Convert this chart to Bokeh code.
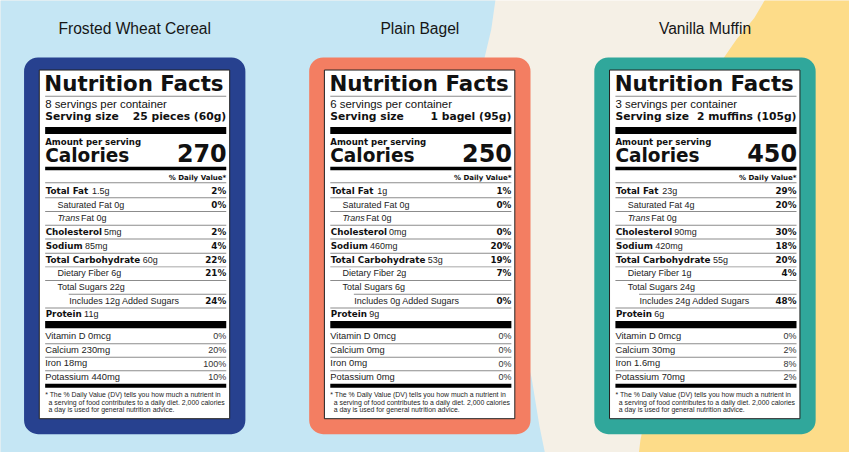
from bokeh.plotting import figure
from bokeh.models import Range1d
from bokeh.core.properties import value
from bokeh.embed import file_html
from bokeh.resources import INLINE

# ---------------- data ----------------
products = ["Frosted Wheat Cereal", "Plain Bagel", "Vanilla Muffin"]
servings = [8, 6, 3]
serving_sizes = ["25 pieces (60g)", "1 bagel (95g)", "2 muffins (105g)"]
calories = [270, 250, 450]

total_fat = ["1.5g", "1g", "23g"]
total_fat_dv = [2, 1, 29]
sat_fat = ["0g", "0g", "4g"]
sat_fat_dv = [0, 0, 20]
trans_fat = ["0g", "0g", "0g"]
cholesterol = ["5mg", "0mg", "90mg"]
cholesterol_dv = [2, 0, 30]
sodium = ["85mg", "460mg", "420mg"]
sodium_dv = [4, 20, 18]
carbs = ["60g", "53g", "55g"]
carbs_dv = [22, 19, 20]
fiber = ["6g", "2g", "1g"]
fiber_dv = [21, 7, 4]
sugars = ["22g", "6g", "24g"]
added_sugars = ["12g", "0g", "24g"]
added_sugars_dv = [24, 0, 48]
protein = ["11g", "9g", "6g"]

vitamin_d = ["0mcg", "0mcg", "0mcg"]
vitamin_d_dv = [0, 0, 0]
calcium = ["230mg", "0mg", "30mg"]
calcium_dv = [20, 0, 2]
iron = ["18mg", "0mg", "1.6mg"]
iron_dv = [100, 0, 8]
potassium = ["440mg", "0mg", "70mg"]
potassium_dv = [10, 0, 2]

footnote = ["* The % Daily Value (DV) tells you how much a nutrient in",
            "a serving of food contributes to a daily diet. 2,000 calories",
            "a day is used for general nutrition advice."]

card_colors = ["#27418F", "#F37E62", "#30A79B"]

# ---------------- styles ----------------
BLUE_BG = "#C5E6F4"
BEIGE_BG = "#F5F0E6"
YELLOW_BG = "#FDDC89"
RULE = "#8C8C8C"
INK = "#111111"
BOLD = "DejaVu Sans"
REG = "Liberation Sans"
FS = 0.975        # font scale (figure is slightly smaller than the reference)
BASE_SHIFT = 0.37  # renderer places text lower than the baseline by ~this * size

W_BOLD = {' ': .348, 'T': .682, 'o': .687, 't': .478, 'a': .675, 'l': .343, 'F': .683,
          'C': .734, 'h': .712, 'e': .678, 's': .595, 'r': .493, 'S': .720, 'd': .716,
          'i': .343, 'u': .712, 'm': 1.042, 'y': .652, 'P': .732, 'n': .712, 'b': .716}

def bold_width(s, size):
    return sum(W_BOLD.get(c, .7) for c in s) * size

p = figure(width=849, height=452, x_range=Range1d(0, 865), y_range=Range1d(468, 0),
           output_backend="svg", toolbar_location=None, min_border=0,
           x_axis_location=None, y_axis_location=None)
p.grid.visible = False
p.outline_line_color = None
p.background_fill_color = BEIGE_BG
p.border_fill_color = BEIGE_BG

# background shapes
blue_x = [-20, 507, 500, 493, 490, 494, 508, 528, 541, 549, 557, -20]
blue_y = [-20, -20, 30, 60, 120, 200, 280, 340, 390, 440, 480, 480]
p.patch(blue_x, blue_y, fill_color=BLUE_BG, line_color=None)
yel_x = [790, 768, 750, 735, 715, 690, 668, 657, 652, 649, 880, 880]
yel_y = [-20, 18, 40, 62, 150, 260, 360, 430, 455, 480, 480, -20]
p.patch(yel_x, yel_y, fill_color=YELLOW_BG, line_color=None)

CARD_X0, CARD_STEP, CARD_W = 24.0, 290.5, 225.5
CARD_TOP, CARD_BOT = 59.0, 449.0
LABEL_DX, LABEL_W, LABEL_TOP, LABEL_BOT = 15.5, 194.0, 72.0, 433.0
TX, TR = 6.0, 190.5

groups = {}
def add_text(x, y, s, font, size, style="normal", align="left", color=INK):
    sz = round(size * FS, 2)
    key = (font, sz, style, align, color)
    g = groups.setdefault(key, ([], [], []))
    g[0].append(x); g[1].append(y - BASE_SHIFT * sz); g[2].append(s)

hrules = {}
def add_rule(x0, x1, y, t):
    g = hrules.setdefault(t, ([], [], [], []))
    g[0].append(x0); g[1].append(x1); g[2].append(y - t / 2); g[3].append(y + t / 2)

card_l = [CARD_X0 + i * CARD_STEP for i in range(3)]
p.quad(left=card_l, right=[c + CARD_W for c in card_l], top=[CARD_TOP] * 3,
       bottom=[CARD_BOT] * 3, fill_color=card_colors, line_color=None, border_radius=14)
lab_l = [c + LABEL_DX for c in card_l]
p.quad(left=lab_l, right=[l + LABEL_W for l in lab_l], top=[LABEL_TOP] * 3,
       bottom=[LABEL_BOT] * 3, fill_color="white", line_color="#222222", line_width=1)

main_y = [200.6, 214.8, 229.0, 243.2, 257.4, 271.6, 285.8, 300.0, 314.2, 327.8]
main_rules = [204.3, 218.4, 232.6, 246.9, 261.6, 275.8, 290.0, 304.2, 318.4]
vit_y = [351.2, 365.2, 379.2, 393.3]
vit_rules = [355.3, 369.3, 383.3]

for i in range(3):
    L = lab_l[i]
    xl, xr = L + TX, L + TR
    cx = card_l[i] + CARD_W / 2
    add_text(cx, 34.5, products[i], REG, 16, align="center", color="#161616")
    add_text(xl - 0.8, 94.3, "Nutrition Facts", BOLD, 21.9, "bold")
    add_rule(xl, xr, 99.2, 1)
    add_text(xl, 111.2, f"{servings[i]} servings per container", REG, 11.7)
    add_text(xl, 123.6, "Serving size", BOLD, 11, "bold")
    add_text(xr, 123.6, serving_sizes[i], BOLD, 11, "bold", align="right")
    add_rule(xl, xr, 134.6, 7)
    add_text(xl, 149.3, "Amount per serving", BOLD, 8.8, "bold")
    add_text(xl, 167.2, "Calories", BOLD, 19.0, "bold")
    add_text(xr + 0.5, 167.2, str(calories[i]), BOLD, 24.5, "bold", align="right")
    add_rule(xl, xr, 174.0, 3.6)
    add_text(xr, 185.6, "% Daily Value*", BOLD, 7.2, "bold", align="right")
    add_rule(xl, xr, 188.6, 1)

    rows = [
        ("Total Fat", total_fat[i], total_fat_dv[i], 0, "bold"),
        ("Saturated Fat", sat_fat[i], sat_fat_dv[i], 12, "reg"),
        ("Trans", trans_fat[i], None, 12, "italic"),
        ("Cholesterol", cholesterol[i], cholesterol_dv[i], 0, "bold"),
        ("Sodium", sodium[i], sodium_dv[i], 0, "bold"),
        ("Total Carbohydrate", carbs[i], carbs_dv[i], 0, "bold"),
        ("Dietary Fiber", fiber[i], fiber_dv[i], 12, "reg"),
        ("Total Sugars", sugars[i], None, 12, "reg"),
        ("Includes", added_sugars[i], added_sugars_dv[i], 24, "inc"),
        ("Protein", protein[i], None, 0, "bold"),
    ]
    for r, (name, amt, dv, ind, kind) in enumerate(rows):
        y = main_y[r]
        x = xl + 0.5 + ind
        if kind == "bold":
            add_text(x, y, name, BOLD, 9, "bold")
            add_text(x + bold_width(name, 9 * FS) + 3.0, y, amt, REG, 9.2, color="#222222")
        elif kind == "italic":
            add_text(x, y, name, REG, 9.2, "italic", color="#222222")
            add_text(x + 24.0, y, f"Fat {amt}", REG, 9.2, color="#222222")
        elif kind == "inc":
            add_text(x, y, f"Includes {amt} Added Sugars", REG, 9.2, color="#222222")
        else:
            add_text(x, y, f"{name} {amt}", REG, 9.2, color="#222222")
        if dv is not None:
            add_text(xr, y, f"{dv}%", BOLD, 9, "bold", align="right")
    for r, ry in enumerate(main_rules):
        add_rule(xl + (24 if r == 7 else 0), xr, ry, 1)
    add_rule(xl, xr, 335.5, 7.5)

    vits = [("Vitamin D", vitamin_d[i], vitamin_d_dv[i]),
            ("Calcium", calcium[i], calcium_dv[i]),
            ("Iron", iron[i], iron_dv[i]),
            ("Potassium", potassium[i], potassium_dv[i])]
    for r, (name, amt, dv) in enumerate(vits):
        add_text(xl, vit_y[r], f"{name} {amt}", REG, 9.6, color="#222222")
        add_text(xr, vit_y[r], f"{dv}%", REG, 9.2, align="right", color="#333333")
    for ry in vit_rules:
        add_rule(xl, xr, ry, 1)
    add_rule(xl, xr, 398.9, 4.2)

    for k, (line, fy) in enumerate(zip(footnote, [411.0, 418.6, 426.2])):
        add_text(xl + (0 if k == 0 else 3.5), fy, line, REG, 7.1, color="#1c1c1c")

for t, (x0, x1, y0, y1) in hrules.items():
    color = RULE if t <= 1 else "black"
    p.quad(left=x0, right=x1, top=y0, bottom=y1, fill_color=color, line_color=None)

for (font, size, style, align, color), (xs, ys, ts) in groups.items():
    p.text(x=xs, y=ys, text=ts, text_font=value(font), text_font_size=f"{size}px",
           text_font_style=style, text_align=align, text_baseline="alphabetic",
           text_color=color)

open("out.html", "w").write(file_html(p, INLINE))
